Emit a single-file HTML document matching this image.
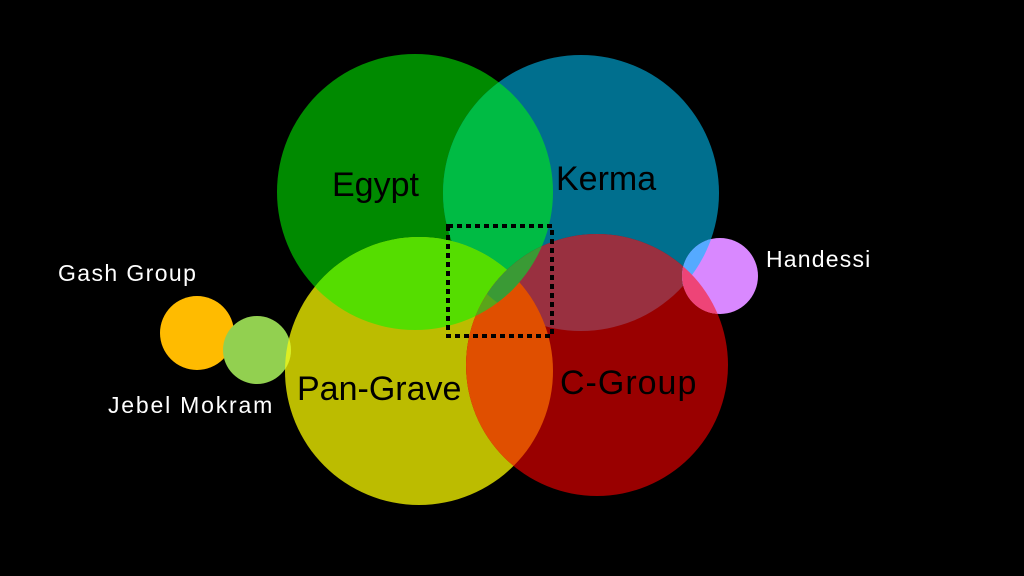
<!DOCTYPE html>
<html><head><style>
html,body{margin:0;padding:0;background:#000;}
svg{display:block}
text{font-family:"Liberation Sans",sans-serif;}
</style></head><body>
<svg width="1024" height="576" viewBox="0 0 1024 576">
<defs>
<clipPath id="E"><circle cx="415" cy="192" r="138"/></clipPath>
<clipPath id="K"><circle cx="581" cy="193" r="138"/></clipPath>
<clipPath id="P"><circle cx="419" cy="371" r="134"/></clipPath>
<clipPath id="C"><circle cx="597" cy="365" r="131"/></clipPath>
<clipPath id="H"><circle cx="720" cy="276" r="38"/></clipPath>
</defs>
<rect width="1024" height="576" fill="#000"/>
<circle cx="415" cy="192" r="138" fill="#008a00"/>
<circle cx="581" cy="193" r="138" fill="#006f8e"/>
<g clip-path="url(#E)"><circle cx="581" cy="193" r="138" fill="#00bb44"/></g>
<circle cx="419" cy="371" r="134" fill="#bcbc00"/>
<g clip-path="url(#P)"><circle cx="415" cy="192" r="138" fill="#55dd00"/></g>
<circle cx="597" cy="365" r="131" fill="#990000"/>
<g clip-path="url(#C)"><circle cx="581" cy="193" r="138" fill="#993040"/></g>
<g clip-path="url(#C)"><circle cx="419" cy="371" r="134" fill="#e04f00"/></g>
<g clip-path="url(#C)"><g clip-path="url(#P)"><circle cx="415" cy="192" r="138" fill="#5aa51a"/></g></g>
<g clip-path="url(#C)"><g clip-path="url(#E)"><circle cx="581" cy="193" r="138" fill="#3a9a35"/></g></g>
<circle cx="720" cy="276" r="38" fill="#d988ff"/>
<g clip-path="url(#H)"><circle cx="581" cy="193" r="138" fill="#55aaff"/></g>
<g clip-path="url(#H)"><circle cx="597" cy="365" r="131" fill="#ee4477"/></g>
<circle cx="197" cy="333" r="37" fill="#ffbb00"/>
<circle cx="257" cy="350" r="34" fill="#92d050"/>
<g clip-path="url(#P)"><circle cx="257" cy="350" r="34" fill="#ddee22"/></g>
<rect x="448" y="226" width="104" height="110" fill="none" stroke="#000" stroke-width="4" stroke-dasharray="5,4"/>
<g font-size="34" fill="#000">
<text x="332" y="196">Egypt</text>
<text x="556" y="190">Kerma</text>
<text x="297" y="400">Pan-Grave</text>
<text x="560" y="394" letter-spacing="1">C-Group</text>
</g>
<g font-size="23" fill="#fff">
<text x="58" y="281" letter-spacing="1.4">Gash Group</text>
<text x="108" y="413" letter-spacing="1.8">Jebel Mokram</text>
<text x="766" y="267" letter-spacing="1.2">Handessi</text>
</g>
</svg>
</body></html>
